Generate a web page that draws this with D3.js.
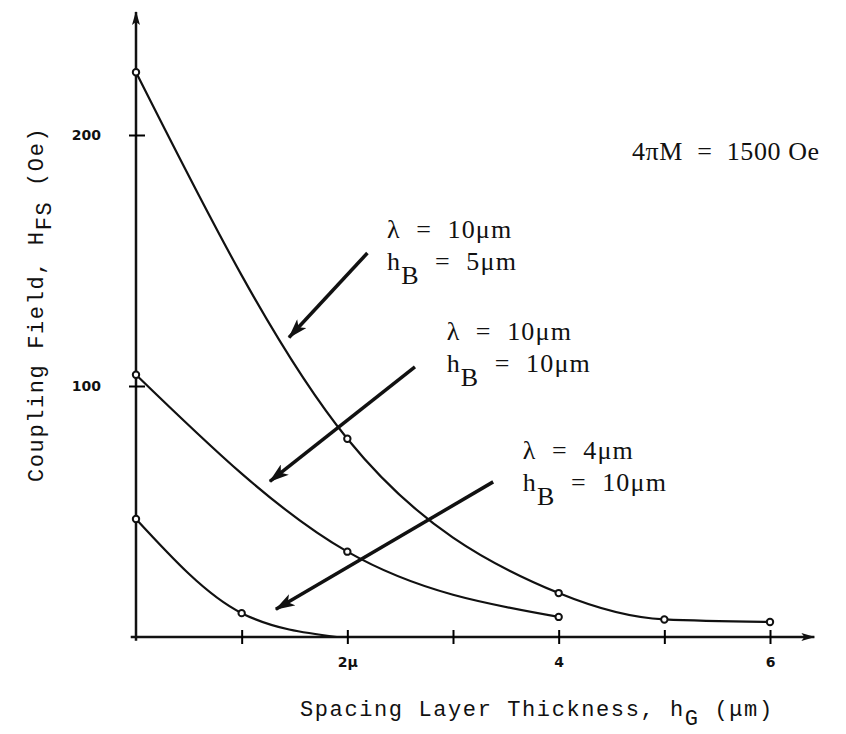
<!DOCTYPE html>
<html>
<head>
<meta charset="utf-8">
<script src="https://cdn.jsdelivr.net/npm/d3@7"></script>
<style>
  body { margin: 0; background: #fff; }
  .axis text { font-family: "DejaVu Sans", sans-serif; font-weight: bold; font-size: 14px; fill: #111; }
  .mono { font-family: "Liberation Mono", "Courier New", monospace; font-size: 22px; letter-spacing: 1.6px; fill: #111; }
  .serif { font-family: "Liberation Serif", "Times New Roman", serif; font-size: 26px; letter-spacing: 1.2px; fill: #111; }
</style>
</head>
<body>
<div id="chart"></div>
<script>
var svgWidth = 846;
var svgHeight = 734;

// coupling field H_FS (Oe) vs spacing layer thickness hG (um)
var curveA_x = [0, 2, 4, 5, 6];           // lambda = 10um, hB = 5um
var curveA_y = [225, 79, 17.5, 7, 6];
var curveB_x = [0, 2, 4];                 // lambda = 10um, hB = 10um
var curveB_y = [104.5, 34, 8];
var curveC_x = [0, 1, 1.9];               // lambda = 4um, hB = 10um
var curveC_y = [47, 9.5, 0];
var curveC_marked = [true, true, false];

var xTicks = [1, 2, 3, 4, 5, 6];
var xTickLabels = {2: "2\u03bc", 4: "4", 6: "6"};
var yTicks = [100, 200];

var lambdaText = ["10\u03bcm", "10\u03bcm", "4\u03bcm"];
var hbText = ["5\u03bcm", "10\u03bcm", "10\u03bcm"];

// annotation anchors, in data units
var labelAt = [[2.375, 159], [2.94, 118.5], [3.66, 71]];
var arrowFrom = [[2.19, 153], [2.64, 107.6], [3.38, 61.8]];
var arrowTo = [[1.39, 116.7], [1.2, 59.8], [1.25, 9.2]];

var x = d3.scaleLinear().domain([0, 6]).range([136, 770]);
var y = d3.scaleLinear().domain([0, 200]).range([637, 135]);

var svg = d3.select("#chart")
  .append("svg")
  .attr("width", svgWidth)
  .attr("height", svgHeight);

var defs = svg.append("defs");
defs.append("marker")
  .attr("id", "head")
  .attr("markerUnits", "userSpaceOnUse")
  .attr("viewBox", "0 0 20 13")
  .attr("markerWidth", 20)
  .attr("markerHeight", 13)
  .attr("refX", 19)
  .attr("refY", 6.5)
  .attr("orient", "auto")
  .append("path")
  .attr("d", "M0,0 L20,6.5 L0,13 L5,6.5 Z")
  .attr("fill", "#111");

defs.append("marker")
  .attr("id", "axhead")
  .attr("markerUnits", "userSpaceOnUse")
  .attr("viewBox", "0 0 14 8")
  .attr("markerWidth", 14)
  .attr("markerHeight", 8)
  .attr("refX", 13)
  .attr("refY", 4)
  .attr("orient", "auto")
  .append("path")
  .attr("d", "M0,0 L14,4 L0,8 L3,4 Z")
  .attr("fill", "#111");

// axis lines with arrows
svg.append("line")
  .attr("x1", x(-0.05)).attr("y1", y(0))
  .attr("x2", x(6.42)).attr("y2", y(0))
  .attr("stroke", "#111").attr("stroke-width", 2.5)
  .attr("marker-end", "url(#axhead)");

svg.append("line")
  .attr("x1", x(0)).attr("y1", y(-1.5))
  .attr("x2", x(0)).attr("y2", y(249))
  .attr("stroke", "#111").attr("stroke-width", 2.5)
  .attr("marker-end", "url(#axhead)");

// ticks
var xAxis = svg.append("g")
  .attr("class", "axis")
  .attr("transform", `translate(0, ${y(0)})`)
  .call(d3.axisBottom(x)
    .tickValues(xTicks)
    .tickSizeInner(6)
    .tickSizeOuter(0)
    .tickPadding(14)
    .tickFormat(d => xTickLabels[d] || ""));
xAxis.select(".domain").remove();
xAxis.selectAll(".tick line").attr("y1", -7).attr("y2", 7).attr("stroke-width", 2);

var yAxis = svg.append("g")
  .attr("class", "axis")
  .attr("transform", `translate(${x(0)}, 0)`)
  .call(d3.axisLeft(y)
    .tickValues(yTicks)
    .tickSizeInner(6)
    .tickSizeOuter(0)
    .tickPadding(29)
    .tickFormat(d3.format("d")));
yAxis.select(".domain").remove();
yAxis.selectAll(".tick line").attr("x1", -7).attr("x2", 9).attr("stroke-width", 2);

// curves
var line = d3.line()
  .x(d => x(d[0]))
  .y(d => y(d[1]))
  .curve(d3.curveMonotoneX);

var series = [
  {xs: curveA_x, ys: curveA_y, marked: curveA_x.map(() => true)},
  {xs: curveB_x, ys: curveB_y, marked: curveB_x.map(() => true)},
  {xs: curveC_x, ys: curveC_y, marked: curveC_marked}
];

series.forEach(function(s) {
  var pts = s.xs.map((v, i) => [v, s.ys[i]]);
  svg.append("path")
    .datum(pts)
    .attr("d", line)
    .attr("fill", "none")
    .attr("stroke", "#111")
    .attr("stroke-width", 2.2);

  svg.selectAll(null)
    .data(pts.filter((p, i) => s.marked[i]))
    .enter()
    .append("circle")
    .attr("cx", d => x(d[0]))
    .attr("cy", d => y(d[1]))
    .attr("r", 3.2)
    .attr("fill", "#fff")
    .attr("stroke", "#111")
    .attr("stroke-width", 2);
});

// arrows pointing at the curves
arrowFrom.forEach(function(f, i) {
  var t = arrowTo[i];
  var x1 = x(f[0]), y1 = y(f[1]), x2 = x(t[0]), y2 = y(t[1]);
  var len = Math.hypot(x2 - x1, y2 - y1);
  var k = (len - 9) / len;
  svg.append("line")
    .attr("x1", x1).attr("y1", y1)
    .attr("x2", x1 + (x2 - x1) * k).attr("y2", y1 + (y2 - y1) * k)
    .attr("stroke", "#111")
    .attr("stroke-width", 3.5)
    .attr("marker-end", "url(#head)");
});

// curve labels
labelAt.forEach(function(p, i) {
  var g = svg.append("g")
    .attr("transform", `translate(${x(p[0])}, ${y(p[1])})`);
  g.append("text")
    .attr("class", "serif")
    .attr("xml:space", "preserve")
    .text("\u03bb  =  " + lambdaText[i]);
  var t2 = g.append("text")
    .attr("class", "serif")
    .attr("xml:space", "preserve")
    .attr("y", 32);
  t2.append("tspan").text("h");
  t2.append("tspan").attr("dy", 14).text("B");
  t2.append("tspan").attr("dy", -14).text("  =  " + hbText[i]);
});

svg.append("text")
  .attr("class", "serif")
  .attr("xml:space", "preserve")
  .attr("x", 632)
  .attr("y", 160)
  .style("letter-spacing", "0.6px")
  .text("4\u03c0M  =  1500 Oe");

// axis titles
var xt = svg.append("text")
  .attr("class", "mono")
  .attr("x", 300)
  .attr("y", 716);
xt.append("tspan").text("Spacing Layer Thickness, h");
xt.append("tspan").attr("dy", 9).text("G");
xt.append("tspan").attr("dy", -9).text(" (\u03bcm)");

var yt = svg.append("text")
  .attr("class", "mono")
  .attr("transform", "translate(43, 482) rotate(-90)");
yt.append("tspan").text("Coupling Field, H");
yt.append("tspan").attr("dy", 8).text("FS");
yt.append("tspan").attr("dy", -8).text(" (Oe)");
</script>
</body>
</html>
